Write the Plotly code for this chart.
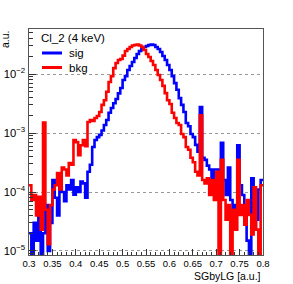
import numpy as np
import plotly.graph_objects as go

# ---- data -------------------------------------------------------------
x_min, x_max, bin_width = 0.30, 0.80, 0.005

sig = [2e-5, 0, 3e-5, 1.5e-5, 4e-5, 0, 2e-5, 6e-5, 1e-5, 3e-5,
       1.6e-4, 8e-5, 4e-5, 1.2e-4, 1.0e-4, 7e-5, 1.3e-4, 1.1e-4, 1.6e-4, 9e-5,
       1.2e-4, 1.0e-4, 1.5e-4, 1.4e-4, 8e-5, 2.2e-4, 2.9e-4, 5.8e-4, 7.6e-4, 8.5e-4,
       9.3e-4, 1.1e-3, 1.37e-3, 1.66e-3, 2.2e-3, 2.65e-3, 3.2e-3, 3.77e-3, 4.7e-3, 5.8e-3,
       7.9e-3, 9.2e-3, 1.17e-2, 1.37e-2, 1.6e-2, 1.87e-2, 2.18e-2, 2.45e-2, 2.65e-2, 2.87e-2,
       2.98e-2, 3.1e-2, 3.16e-2, 3.1e-2, 2.87e-2, 2.65e-2, 2.36e-2, 2.02e-2, 1.73e-2, 1.42e-2,
       1.17e-2, 9.2e-3, 7.0e-3, 5.4e-3, 3.9e-3, 3.0e-3, 2.27e-3, 1.48e-3, 1.3e-3, 9.6e-4,
       8.5e-4, 6.3e-4, 4.8e-4, 2.76e-3, 3.8e-4, 3.5e-4, 2.8e-4, 2.4e-4, 1.7e-4, 2.4e-4,
       2.4e-4, 2.2e-4, 6.8e-4, 1.6e-4, 8.9e-5, 2.6e-4, 7.3e-5, 4.1e-5, 6e-5, 6.2e-4,
       1.3e-4, 8.9e-5, 5e-5, 1.5e-5, 0, 1.7e-4, 2.3e-5, 3.4e-5, 1.1e-4, 1.6e-4]

bkg = [1.3e-4, 7.3e-5, 8.9e-5, 4e-5, 8.3e-5, 2.3e-5, 1.5e-3, 5e-5, 1.3e-5, 6e-5,
       1.1e-4, 1.3e-4, 2.1e-4, 1.1e-4, 2.6e-4, 2.4e-4, 1.9e-4, 3.1e-4, 2.9e-4, 7.6e-4,
       7e-4, 4.2e-4, 6.2e-4, 7.6e-4, 6e-4, 1.54e-3, 1.66e-3, 1.6e-3, 1.8e-3, 1.94e-3,
       2.27e-3, 3.0e-3, 3.6e-3, 5.0e-3, 7.3e-3, 9.2e-3, 1.26e-2, 1.54e-2, 1.73e-2, 1.8e-2,
       2.05e-2, 2.45e-2, 2.65e-2, 2.87e-2, 3.05e-2, 3.1e-2, 3.16e-2, 3.05e-2, 2.87e-2, 2.55e-2,
       2.18e-2, 1.94e-2, 1.66e-2, 1.42e-2, 1.17e-2, 9.6e-3, 7.9e-3, 6.3e-3, 4.75e-3, 3.6e-3,
       3.1e-3, 2.2e-3, 1.8e-3, 1.48e-3, 1.37e-3, 9.6e-4, 8.5e-4, 5.8e-4, 5.2e-4, 3.8e-4,
       3.2e-4, 2.2e-4, 1.9e-4, 2.0e-3, 1.6e-4, 1.4e-4, 1.7e-4, 8.9e-5, 1.6e-4, 7.3e-5,
       2.2e-4, 0, 3.5e-4, 7.3e-5, 3.4e-5, 6e-5, 0, 5e-5, 2.3e-5, 3.5e-4,
       4.1e-5, 6e-5, 2.8e-5, 7.3e-5, 4.1e-5, 1.9e-5, 1.2e-4, 2.3e-5, 0, 1.3e-4]

x_ticks = [0.3, 0.35, 0.4, 0.45, 0.5, 0.55, 0.6, 0.65, 0.7, 0.75, 0.8]
x_tick_labels = ["0.3", "0.35", "0.4", "0.45", "0.5", "0.55", "0.6", "0.65", "0.7", "0.75", "0.8"]

series_names = ["sig", "bkg"]
series_colors = ["#0000ff", "#ff0000"]
legend_header = "Cl_2 (4 keV)"
x_title = "SGbyLG [a.u.]"
y_title = "a.u."

# ---- figure -----------------------------------------------------------
n_bins = len(sig)
edges = x_min + bin_width * np.arange(n_bins + 1)

def step_xy(vals):
    v = np.array(vals, dtype=float)
    v = np.where(v > 0, v, 1e-9)   # empty bins drawn to the bottom
    return edges, np.append(v, v[-1])

FONT = "Liberation Sans, Arial, Helvetica, sans-serif"

fig = go.Figure()
for name, vals, col in zip(series_names, [sig, bkg], series_colors):
    xs, ys = step_xy(vals)
    fig.add_trace(go.Scatter(x=xs, y=ys, mode="lines", name=name,
                             line=dict(color=col, width=2.6, shape="hv"),
                             showlegend=False))

W, H = 293, 284
L, R, T, B = 29, 30, 29, 29
pw, ph = W - L - R, H - T - B

def px2paper(px, py):
    return (px - L) / pw, 1 - (py - T) / ph

fig.update_layout(
    width=W, height=H,
    margin=dict(l=L, r=R, t=T, b=B),
    paper_bgcolor="white", plot_bgcolor="white",
    font=dict(family=FONT, size=10, color="black"),
    showlegend=False,
)

fig.update_xaxes(range=[x_min, x_max], tickvals=x_ticks, ticktext=x_tick_labels,
                 ticks="inside", ticklen=6, tickwidth=1, tickcolor="#333",
                 minor=dict(ticks="inside", ticklen=3, dtick=0.01, tickcolor="#333", showgrid=False),
                 showline=True, mirror=True, linecolor="#555", linewidth=1,
                 showgrid=False, zeroline=False, tickfont=dict(size=9.5),
                 automargin=False, ticklabelstandoff=0)

fig.update_yaxes(type="log", range=[-5.068, -1.237], dtick=1, exponentformat="power",
                 ticks="inside", ticklen=7, tickwidth=1, tickcolor="#333",
                 minor=dict(ticks="inside", ticklen=4, dtick="D1", tickcolor="#333", showgrid=False),
                 showline=True, mirror=True, linecolor="#555", linewidth=1,
                 showgrid=True, gridcolor="#999", griddash="dot", gridwidth=1,
                 zeroline=False, tickfont=dict(size=9), automargin=False,
                 ticklabelstandoff=1)

# axis titles (ROOT style)
fx, fy = px2paper(263, 276)
fig.add_annotation(text=x_title, xref="paper", yref="paper", x=fx, y=fy,
                   xanchor="right", yanchor="middle", showarrow=False,
                   font=dict(size=10.5))
fx, fy = px2paper(5, 28)
fig.add_annotation(text=y_title, xref="paper", yref="paper", x=fx, y=fy,
                   xanchor="center", yanchor="top", textangle=-90, showarrow=False,
                   font=dict(size=10.5))

# legend (ROOT TLegend style)
fx, fy = px2paper(39, 38)
fig.add_annotation(text=legend_header, xref="paper", yref="paper", x=fx, y=fy,
                   xanchor="left", yanchor="middle", showarrow=False, font=dict(size=11.5))
for k, (name, col) in enumerate(zip(series_names, series_colors)):
    yy = 53 + 14.5 * k
    x0, y0 = px2paper(42, yy)
    x1, _ = px2paper(62, yy)
    fig.add_shape(type="line", xref="paper", yref="paper", x0=x0, x1=x1, y0=y0, y1=y0,
                  line=dict(color=col, width=3))
    tx, ty = px2paper(67, yy)
    fig.add_annotation(text=name, xref="paper", yref="paper", x=tx, y=ty,
                       xanchor="left", yanchor="middle", showarrow=False, font=dict(size=11.5))

fig.write_html("out.html", config={"displayModeBar": False},
               post_script="document.body.style.margin='0px';")
